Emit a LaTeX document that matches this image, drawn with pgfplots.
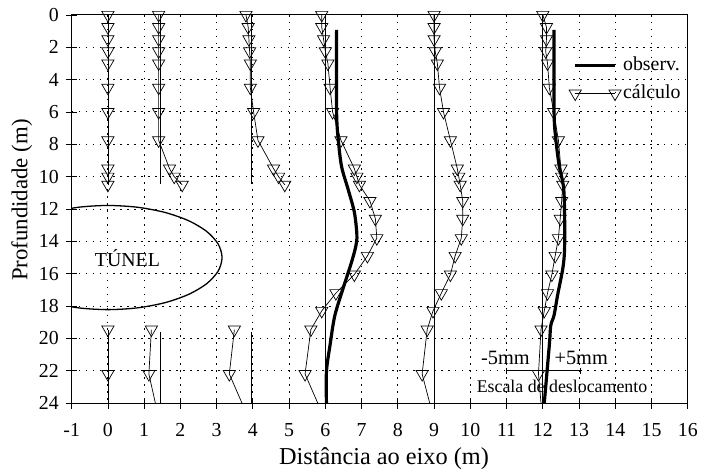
\documentclass[border=0pt]{standalone}
\usepackage{pgfplots}
\pgfplotsset{compat=1.18}
\usepackage{fontspec}
\setmainfont{Liberation Serif}
\begin{document}
\begin{tikzpicture}
\begin{axis}[
  scale only axis, width=619bp, height=390bp,
  xmin=-1, xmax=16, ymin=0, ymax=24, y dir=reverse,
  xtick={-1,0,...,16}, ytick={0,2,...,24},
  /pgf/number format/assume math mode=true,
  tick label style={font=\fontsize{20}{22}\selectfont},
  xticklabel style={yshift=-11bp},
  yticklabel style={xshift=-4bp},
  xlabel={Distância ao eixo (m)}, ylabel={Profundidade (m)},
  every axis x label/.style={at={(axis description cs:0.507,-0.158)}, anchor=base, font=\fontsize{24.5}{26}\selectfont},
  every axis y label/.style={at={(axis description cs:-0.081,0.523)}, rotate=90, anchor=center, font=\fontsize{23}{26}\selectfont},
  xtick pos=left, ytick pos=left,
  tick align=center, major tick length=11bp,
  tick style={black, line width=0.8bp},
  axis line style={black, line width=0.9bp},
  xmajorgrids, ymajorgrids,
  grid style={black, line width=1bp, dash pattern=on 1.6bp off 5.4bp},
  legend style={at={(axis cs:12.72,4.0)}, anchor=west, draw=none, fill=none,
    font=\fontsize{20}{22}\selectfont, inner sep=0pt, row sep=6bp,
    nodes={inner sep=2bp, text height=14bp, text depth=4bp}},
  legend cell align=left,
  legend image code/.code={\draw[#1] plot coordinates {(0bp,0bp) (40bp,0bp)};},
  calc/.style={black, line width=0.7bp, mark=triangle, mark size=7.1bp,
    mark options={rotate=180, solid, line width=0.7bp}},
  base/.style={black, line width=0.9bp, forget plot},
  obs/.style={black, line width=3.2bp},
]
% base vertical lines
\addplot[base] coordinates {(1.45,0) (1.45,10.45)};
\addplot[base] coordinates {(3.95,0) (3.95,10.45)};
\addplot[base] coordinates {(1.45,19.6) (1.45,24)};
\addplot[base] coordinates {(3.95,19.6) (3.95,24)};
\addplot[base] coordinates {(6,0) (6,24)};
\addplot[base] coordinates {(9,0) (9,24)};
\addplot[base] coordinates {(12,0) (12,24)};
% tunnel
\addplot[black, line width=1.3bp, smooth, forget plot] coordinates {
(-1.575,12.211) (-0.815,11.890) (0,11.78) (0.815,11.890) (1.575,12.211)
(2.227,12.723) (2.728,13.39) (3.043,14.167) (3.15,15) (3.043,15.833)
(2.728,16.61) (2.227,17.277) (1.575,17.789) (0.815,18.110) (0,18.22)
(-0.815,18.110) (-1.575,17.789)};
% observed
\addplot[obs, smooth, tension=0.5] coordinates {
(6.31,0.92) (6.31,6) (6.36,7.8) (6.45,9.4) (6.63,10.8) (6.8,12.2) (6.87,13.6)
(6.84,14.3) (6.72,15.3) (6.49,16.9) (6.26,18.6) (6.13,20.4) (6.03,22.05) (6.03,24)};
\addlegendentry{observ.}
% calculated
\addplot[calc] coordinates {
(5.9,0) (5.9,0.75) (5.95,1.5) (6.0,2.25) (6.07,3) (6.13,4.5) (6.2,6) (6.43,7.75)
(6.8,9.5) (6.87,10) (6.94,10.5) (7.23,11.5) (7.38,12.6) (7.42,13.8) (7.16,14.9)
(6.8,16.05) (6.29,17.2) (5.9,18.3) (5.6,19.45) (5.44,22.2)};
\addlegendentry{cálculo}
\addplot[obs, smooth, tension=0.5, forget plot] coordinates {
(12.31,0.92) (12.31,6) (12.36,7.7) (12.45,9.3) (12.57,10.6) (12.6,12.2) (12.6,14.5)
(12.55,15.7) (12.41,17.3) (12.31,18.57) (12.22,19.2) (12.18,20.4) (12.04,24)};
\addplot[calc, forget plot] coordinates {
(0,0) (0,0.75) (0,1.5) (0,2.25) (0,3) (0,4.5) (0,6) (0,7.75) (0,9.5) (0,10) (0,10.5)};
\addplot[calc, forget plot] coordinates {(0,19.45) (0,22.2)};
\addplot[black, line width=0.7bp, forget plot] coordinates {(0,22.2) (0,24)};
\addplot[calc, forget plot] coordinates {
(1.4,0) (1.4,0.75) (1.4,1.5) (1.4,2.25) (1.4,3) (1.4,4.5) (1.4,6) (1.4,7.75)
(1.7,9.5) (1.83,10) (2.05,10.5)};
\addplot[calc, forget plot] coordinates {(1.2,19.45) (1.13,22.2)};
\addplot[black, line width=0.7bp, forget plot] coordinates {(1.13,22.2) (1.31,24)};
\addplot[calc, forget plot] coordinates {
(3.81,0) (3.87,0.75) (3.89,1.5) (3.91,2.25) (3.93,3) (3.93,4.5) (4.02,6) (4.14,7.75)
(4.57,9.5) (4.71,10) (4.88,10.5)};
\addplot[calc, forget plot] coordinates {(3.49,19.45) (3.35,22.2)};
\addplot[black, line width=0.7bp, forget plot] coordinates {(3.35,22.2) (3.7,24)};
\addplot[black, line width=0.7bp, forget plot] coordinates {(5.44,22.2) (5.79,24)};
\addplot[calc, forget plot] coordinates {
(9.0,0) (9.0,0.75) (9.0,1.5) (9.03,2.25) (9.09,3) (9.15,4.5) (9.26,6) (9.45,7.75)
(9.64,9.5) (9.68,10) (9.72,10.5) (9.79,11.5) (9.79,12.6) (9.75,13.8) (9.58,14.9)
(9.45,16.05) (9.2,17.2) (8.97,18.3) (8.81,19.45) (8.67,22.2)};
\addplot[black, line width=0.7bp, forget plot] coordinates {(8.67,22.2) (8.88,24)};
\addplot[calc, forget plot] coordinates {
(12.0,0) (12.1,0.75) (12.1,1.5) (12.08,2.25) (12.13,3) (12.18,4.5) (12.3,6) (12.43,7.75)
(12.5,9.5) (12.52,10) (12.55,10.5) (12.52,11.5) (12.48,12.6) (12.43,13.8) (12.34,14.9)
(12.25,16.05) (12.13,17.2) (12.04,18.3) (11.95,19.45) (11.88,22.2)};
\addplot[black, line width=0.7bp, forget plot] coordinates {(11.88,22.2) (11.95,24)};
% displacement scale
\addplot[black, line width=0.9bp, forget plot] coordinates {(11,22) (13.03,22)};
\addplot[black, line width=0.9bp, forget plot] coordinates {(11,21.8) (11,22.2)};
\addplot[black, line width=0.9bp, forget plot] coordinates {(12,21.8) (12,22.2)};
\addplot[black, line width=0.9bp, forget plot] coordinates {(13.03,21.8) (13.03,22.2)};
\node[font=\fontsize{20.5}{22}\selectfont, anchor=base, inner sep=0pt] at (axis cs:10.97,21.63) {-5mm};
\node[font=\fontsize{20.5}{22}\selectfont, anchor=base, inner sep=0pt] at (axis cs:13.06,21.63) {+5mm};
\node[font=\fontsize{18}{20}\selectfont, anchor=base, inner sep=0pt] at (axis cs:12.53,23.36) {Escala de deslocamento};
\node[font=\fontsize{20}{22}\selectfont, anchor=center, inner sep=0pt] at (axis cs:0.54,15.05) {TÚNEL};
\end{axis}
\path (current axis.south west) ++(-72bp,-67bp) coordinate (bbA);
\path (current axis.north east) ++(10bp,15bp) coordinate (bbB);
\end{tikzpicture}
\end{document}
